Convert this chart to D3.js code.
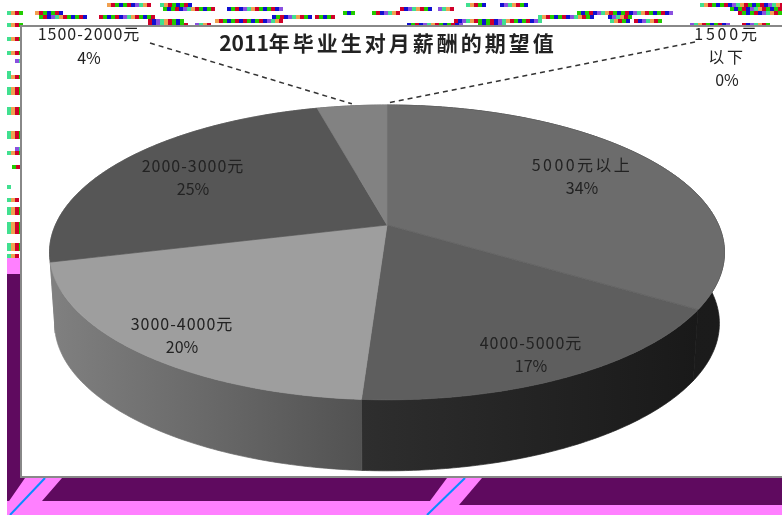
<!DOCTYPE html>
<html>
<head>
<meta charset="utf-8">
<script src="https://cdn.jsdelivr.net/npm/d3@7"></script>
<style>
body { margin: 0; background: #fff; }
svg { display: block; }
text { font-family: "Noto Sans CJK SC", "DejaVu Sans", sans-serif; fill: #222; text-anchor: middle; }
</style>
</head>
<body>
<div id="chart"></div>
<script>
// chart data
var categories = ["5000元以上", "4000-5000元", "3000-4000元", "2000-3000元", "1500-2000元", "1500元以下"];
var percents = [34, 17, 20, 25, 4, 0];
var titleYear = "2011";
var titleRest = "年毕业生对月薪酬的期望值";

// look of each slice
var topColors = ["#6c6c6c", "#5e5e5e", "#9e9e9e", "#565656", "#828282", "#6c6c6c"];
var wallColors = [["#191919", "#1b1b1b"], ["#2e2e2e", "#191919"], ["#808080", "#525252"], ["#808080", "#808080"], ["#555", "#555"], ["#555", "#555"]];

// where the labels sit: [x, first line y, line gap, letter spacing of the name]
var labelPos = [[582, 171, 23, 2.4], [531, 349, 23, 1], [182, 330, 23, 1], [193, 172, 23, 1], [89, 40, 24, 1], [727, 40, 23, 2.8]];

// stray pixel rows along the top edge of the scan: [y, x0, x1]
var noiseTop = [[3, 107, 150], [3, 160, 190], [3, 466, 486], [3, 500, 527], [3, 700, 782],
    [7, 163, 215], [7, 227, 283], [7, 400, 430], [7, 438, 454], [7, 730, 782],
    [11, 7, 23], [11, 35, 62], [11, 343, 355], [11, 372, 400], [11, 577, 670], [11, 738, 782],
    [15, 39, 87], [15, 99, 155], [15, 272, 310], [15, 315, 335], [15, 538, 594], [15, 608, 630],
    [19, 148, 183], [19, 215, 240], [19, 243, 283], [19, 454, 540], [19, 610, 628], [19, 634, 660],
    [23, 7, 23], [23, 148, 187], [23, 195, 211], [23, 407, 462], [23, 478, 505], [23, 690, 730], [23, 742, 770]];
var noiseLeft = [[37, 7, 21], [51, 7, 21], [59, 15, 21], [71, 7, 11], [75, 7, 21], [87, 7, 21], [91, 7, 21],
    [107, 7, 21], [111, 7, 21], [131, 7, 21], [135, 7, 21], [147, 15, 21], [151, 7, 21], [165, 12, 21],
    [185, 7, 11], [198, 7, 19], [207, 7, 21], [211, 7, 21], [222, 7, 21], [226, 7, 21], [230, 7, 21],
    [243, 7, 21], [247, 7, 21], [254, 7, 19]];
var noiseColors = ["#d0002a", "#22cc00", "#1010d0", "#22cc00", "#d0002a", "#1010d0", "#8a50e0", "#40e090", "#f0a050"];

var w = 782, h = 515;
var cx = 387, cy = 225; // point where the slices meet
var k = 0.186, a = 142.3, b = 331.6; // perspective of the tilted disc
var depth = 71;

var svg = d3.select("#chart").append("svg").attr("width", w).attr("height", h);
var defs = svg.append("defs");
defs.append("filter").attr("id", "soft").append("feGaussianBlur").attr("stdDeviation", 0.5);

// pie angle and radius -> screen position
function project(angle, r) {
    var X = r * Math.sin(angle), Y = r * Math.cos(angle);
    var s = 1 + k * Y;
    return [cx + b * X / s, cy - a * Y / s];
}

function arcPoints(d) {
    var n = Math.max(2, Math.ceil((d.endAngle - d.startAngle) / 0.01));
    return d3.range(n + 1).map(function(i) {
        return project(d.startAngle + (d.endAngle - d.startAngle) * i / n, 1);
    });
}

// scan background
svg.append("rect").attr("x", 7).attr("y", 258).attr("width", 14).attr("height", 16).attr("fill", "#ff80ff");
svg.append("rect").attr("x", 7).attr("y", 274).attr("width", 14).attr("height", 204).attr("fill", "#5f0a5f");
svg.append("rect").attr("x", 7).attr("y", 478).attr("width", 775).attr("height", 24).attr("fill", "#5f0a5f");
svg.append("rect").attr("x", 459).attr("y", 478).attr("width", 323).attr("height", 27).attr("fill", "#5f0a5f");
svg.append("rect").attr("x", 7).attr("y", 501).attr("width", 452).attr("height", 14).attr("fill", "#ff80ff");
svg.append("rect").attr("x", 459).attr("y", 505).attr("width", 323).attr("height", 10).attr("fill", "#ff80ff");
[[[25, 478], [62, 478], [42, 501], [7, 501], [7, 504]],
 [[447, 478], [482, 478], [459, 505], [427, 505]]].forEach(function(p) {
    svg.append("polygon").attr("points", p.join(" ")).attr("fill", "#ff80ff");
});
[[45, 478, 10, 515], [465, 478, 427, 515]].forEach(function(l) {
    svg.append("line").attr("x1", l[0]).attr("y1", l[1]).attr("x2", l[2]).attr("y2", l[3])
        .attr("stroke", "#0a8cff").attr("stroke-width", 2);
});

function drawNoise(rows) {
    rows.forEach(function(r) {
        d3.range(r[1], r[2], 4).forEach(function(x, i) {
            svg.append("rect").attr("x", x).attr("y", r[0])
                .attr("width", 4).attr("height", 4)
                .attr("fill", noiseColors[(i + r[1]) % noiseColors.length]);
        });
    });
}
drawNoise(noiseTop);
drawNoise(noiseLeft);

// chart area
svg.append("rect").attr("x", 21).attr("y", 26).attr("width", 770).attr("height", 451)
    .attr("fill", "#fff").attr("stroke", "#888").attr("stroke-width", 2);

var pie = d3.pie().sort(null).value(function(d) { return d; });
var slices = pie(percents);
var g = svg.append("g");

// outer walls first, the top faces cover the part that can't be seen
slices.forEach(function(d, i) {
    if (d.endAngle <= d.startAngle) return;
    var pts = arcPoints(d);
    var x0 = d3.min(pts, function(p) { return p[0]; });
    var x1 = d3.max(pts, function(p) { return p[0]; });
    var grad = defs.append("linearGradient").attr("id", "wall" + i)
        .attr("gradientUnits", "userSpaceOnUse")
        .attr("x1", x0).attr("x2", x1).attr("y1", 0).attr("y2", 0);
    grad.append("stop").attr("offset", 0).attr("stop-color", wallColors[i][0]);
    grad.append("stop").attr("offset", 1).attr("stop-color", wallColors[i][1]);
    var lower = pts.map(function(p) { return [cx + (p[0] - cx) * 0.985, p[1] + depth]; }).reverse();
    g.append("path").attr("d", d3.line()(pts.concat(lower)) + "Z")
        .attr("fill", "url(#wall" + i + ")")
        .attr("stroke", "url(#wall" + i + ")").attr("stroke-width", 0.7);
});

// top faces
slices.forEach(function(d, i) {
    if (d.endAngle <= d.startAngle) return;
    g.append("path").attr("d", d3.line()([[cx, cy]].concat(arcPoints(d))) + "Z")
        .attr("fill", topColors[i])
        .attr("stroke", topColors[i]).attr("stroke-width", 0.7);
});

// leader lines of the two small slices
[[4, [150, 43]], [5, [695, 42]]].forEach(function(l) {
    var p = project((slices[l[0]].startAngle + slices[l[0]].endAngle) / 2, 1);
    g.append("line").attr("x1", l[1][0]).attr("y1", l[1][1]).attr("x2", p[0]).attr("y2", p[1] - 2)
        .attr("stroke", "#333").attr("stroke-width", 1.5).attr("stroke-dasharray", "5,4");
});

// texts
var t = svg.append("g").attr("filter", "url(#soft)");
var title = t.append("text").attr("x", 388).attr("y", 51).attr("font-size", 21).attr("font-weight", "bold");
title.append("tspan").text(titleYear);
title.append("tspan").attr("letter-spacing", 3).text(titleRest);

categories.forEach(function(c, i) {
    var lines = i == 5 ? ["1500元", "以下"] : [c];
    lines.push(percents[i] + "%");
    lines.forEach(function(s, j) {
        t.append("text").attr("x", labelPos[i][0]).attr("y", labelPos[i][1] + j * labelPos[i][2])
            .attr("font-size", 16)
            .attr("letter-spacing", j == lines.length - 1 ? 0 : labelPos[i][3])
            .text(s);
    });
});
</script>
</body>
</html>
